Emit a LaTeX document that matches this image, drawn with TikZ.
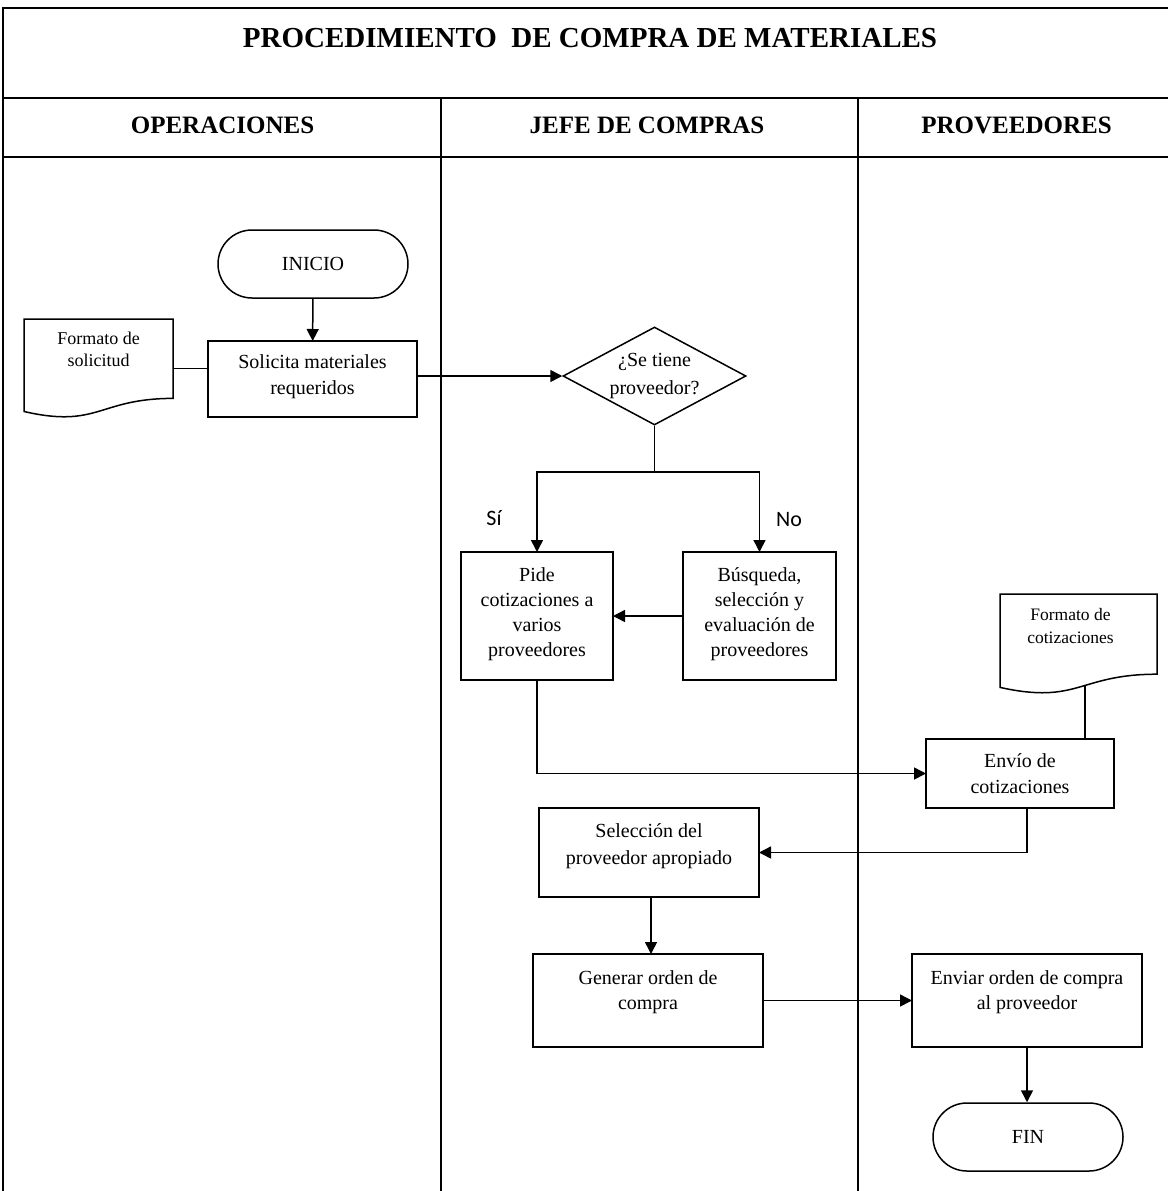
\documentclass[tikz,border=0pt]{standalone}
\usepackage{fontspec}
\setmainfont{Liberation Serif}
\newfontfamily\calib{Carlito}
\usetikzlibrary{shapes.geometric,arrows.meta,calc}
\newcommand\myfs[2]{\fontsize{#1}{#2}\selectfont}
\newcommand\bt[4]{\parbox[c][#2pt][t]{#1pt}{\centering\rule{0pt}{#3pt}#4}}
\begin{document}
\begin{tikzpicture}[x=1pt,y=-1pt,
  ln/.style={line width=1.5pt},
  arr/.style={line width=1.5pt,-{Triangle[length=12pt,width=12pt]}},
  lane/.style={line width=1.1pt},
  hline/.style={line width=2pt},
  box/.style={draw,line width=1.5pt,inner sep=0pt,outer sep=0pt},
  term/.style={draw,line width=1.5pt,rounded corners=34pt,minimum width=190pt,minimum height=68pt,inner sep=0pt,font=\myfs{20}{24}},
  dec/.style={draw,line width=1.5pt,shape=diamond,aspect=1.87,minimum width=183pt,minimum height=98pt,inner sep=0pt,align=center,font=\myfs{20}{28}},
  ttl/.style={font=\bfseries\myfs{29}{34},anchor=base},
  hdr/.style={font=\bfseries\myfs{25}{30},anchor=base},
  lbl/.style={font=\calib\myfs{22}{26}},
  docn/.style={inner sep=0pt,outer sep=0pt}
]
\useasboundingbox (0,0) rectangle (1168,1191);
% frame and lanes
\draw[hline,line width=2.5pt] (3,1191) -- (3,8) -- (1168,8);
\draw[hline] (3,98) -- (1168,98);
\draw[hline] (3,157) -- (1168,157);
\draw[lane] (441,98) -- (441,1191);
\draw[lane] (858,98) -- (858,1191);
\node[ttl] (title) at (590,47) {PROCEDIMIENTO\ \ DE COMPRA DE MATERIALES};
\node[hdr] (h1) at (222.5,133) {OPERACIONES};
\node[hdr] (h2) at (647,133) {JEFE DE COMPRAS};
\node[hdr] (h3) at (1016.5,133) {PROVEEDORES};

% nodes
\node[term] (ini) at (313,264) {INICIO};
\node[box,font=\myfs{20}{26}] (sol) at (312.5,379) {\bt{209}{76}{27}{Solicita materiales\\requeridos}};
\node[docn,font=\myfs{18}{22}] (docS) at (98.5,368.5) {\bt{149}{99}{25}{Formato de\\solicitud}};
\draw[ln] (24,319) -- (173,319) -- (173,398.4) .. controls (98.5,398.4) and (98.5,428.7) .. (24,411.5) -- cycle;
\node[dec] (dq) at (654.5,376) {¿Se tiene\\proveedor?};
\node[box,font=\myfs{20}{25.3}] (pide) at (537,616) {\bt{152}{128}{29}{Pide\\cotizaciones a\\varios\\proveedores}};
\node[box,font=\myfs{20}{25.3}] (busq) at (759.5,616) {\bt{153}{128}{29}{Búsqueda,\\selección y\\evaluación de\\proveedores}};
\node[docn,font=\myfs{17.5}{23}] (docC) at (1078.5,644) {\bt{157}{100}{26}{\hspace*{-16pt}Formato de\\\hspace*{-16pt}cotizaciones}};
\draw[ln] (1000,594) -- (1157,594) -- (1157,674.2) .. controls (1078.5,674.2) and (1078.5,704.8) .. (1000,687.4) -- cycle;
\node[box,font=\myfs{20}{26}] (envio) at (1020,773.5) {\bt{188}{69}{28}{Envío de\\cotizaciones}};
\node[box,font=\myfs{20}{27}] (sel) at (649,852.5) {\bt{220}{89}{29}{Selección del\\proveedor apropiado}};
\node[box,font=\myfs{20}{25}] (gen) at (648,1000.5) {\bt{230}{93}{30}{Generar orden de\\compra}};
\node[box,font=\myfs{20}{25}] (env2) at (1027,1000.5) {\bt{230}{93}{30}{Enviar orden de compra\\al proveedor}};
\node[term] (fin) at (1028,1137) {FIN};
\node[lbl] (si) at (494,518) {Sí};
\node[lbl] (no) at (789,520) {No};

% connectors
\draw[arr] (ini) -- (sol);
\draw[ln] (docS.east) -- (docS.east -| sol.west);
\draw[arr] (sol.east |- dq.west) -- (dq.west);
\draw[ln] (dq.south) -- ++(0,46) coordinate (br);
\draw[arr] (br) -| (pide.north);
\draw[arr] (br) -| (busq.north);
\draw[arr] (busq.west) -- (pide.east);
\draw[arr] (pide.south) |- (envio.west);
\draw[ln] ([xshift=6.5pt,yshift=8pt]docC.south) coordinate (dcb) -- (dcb |- envio.north);
\draw[arr] ([xshift=7pt]envio.south) |- (sel.east);
\draw[arr] ([xshift=2pt]sel.south) -- ([xshift=2pt]sel.south |- gen.north);
\draw[arr] (gen.east) -- (env2.west);
\draw[arr] (env2.south) -- (env2.south |- fin.north);
\end{tikzpicture}
\end{document}
